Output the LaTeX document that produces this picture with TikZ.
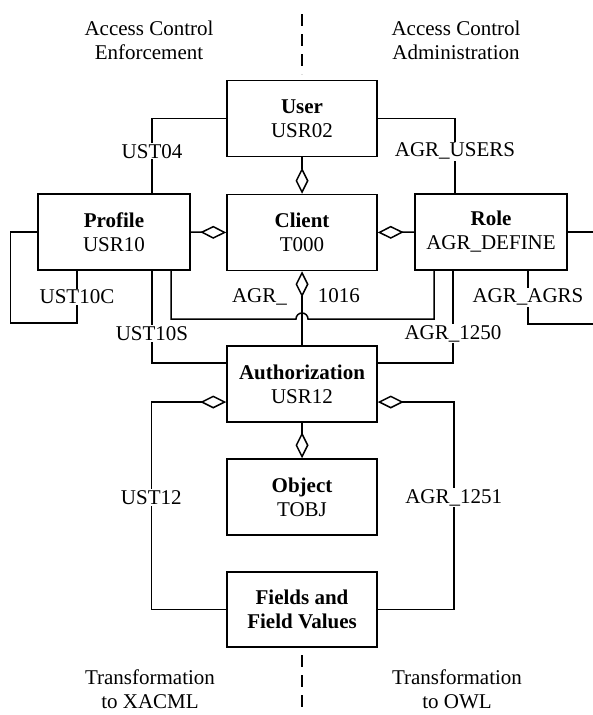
\documentclass[tikz,border=0pt]{standalone}
\usepackage{fontspec}
\setmainfont{Liberation Serif}
\usetikzlibrary{arrows.meta}

\begin{document}
\begin{tikzpicture}[x=1pt, y=-1pt, line width=1.5pt,
  font=\fontsize{21}{24}\selectfont,
  box/.style={draw, minimum width=150pt, minimum height=76pt, align=center, inner sep=2pt},
  lbl/.style={fill=white, inner sep=1pt},
  agg/.style={-{Diamond[open, length=26pt, width=13pt]}},
  aggstart/.style={{Diamond[open, length=26pt, width=13pt]}-},
  divider/.style={dash pattern=on 12pt off 8pt}]
\useasboundingbox (0,0) rectangle (593,715);
% view split
\draw[divider] (302,14) -- (302,74);
\draw[divider] (302,655) -- (302,715);
\node[align=center] (enf) at (149,40) {Access Control\\Enforcement};
\node[align=center] (adm) at (456,40) {Access Control\\Administration};
\node[align=center] (xacml) at (150,689) {Transformation\\to XACML};
\node[align=center] (owl) at (457,689) {Transformation\\to OWL};
% tables
\node[box] (user) at (302,118.5) {\textbf{User}\\USR02};
\node[box] (client) at (302,232.5) {\textbf{Client}\\T000};
\node[box, minimum width=152pt] (profile) at (114,232) {\textbf{Profile}\\USR10};
\node[box, minimum width=152pt] (role) at (491,232) {\textbf{Role}\\AGR\_DEFINE};
\node[box] (auth) at (302,384) {\textbf{Authorization}\\USR12};
\node[box] (object) at (302,497) {\textbf{Object}\\TOBJ};
\node[box, minimum height=75pt] (fields) at (302,609.5) {\textbf{Fields and}\\\textbf{Field Values}};
% links
\draw (user.west) -| node[lbl, pos=0.72]{UST04} ([xshift=38]profile.north);
\draw (user.east) -| node[lbl, pos=0.72]{AGR\_USERS} ([xshift=-36]role.north);
\draw[agg] (user.south) -- (client.north);
\draw[agg] (profile.east) -- (client.west);
\draw[agg] (role.west) -- (client.east);
\draw (profile.west) -| ++(-27,91) -| node[lbl, pos=0.75]{UST10C} ([xshift=-37]profile.south);
\draw (role.east) -- ++(30,0);
\draw ([xshift=37]role.south) |- node[lbl, pos=0.25]{AGR\_AGRS} ++(70,53);
\draw ([xshift=38]profile.south) |- node[lbl, pos=0.34]{UST10S} ([yshift=21]auth.west);
\draw ([xshift=-38]role.south) |- node[lbl, pos=0.34]{AGR\_1250} ([yshift=21]auth.east);
\coordinate (hop) at (302,319);
\draw ([xshift=57]profile.south) |- ([xshift=-6]hop) arc[start angle=180, end angle=0, radius=6pt] -| ([xshift=-57]role.south);
\draw[aggstart] (client.south) -- node[pos=0.35, xshift=-6]{AGR\_\hspace{31pt}1016} (auth.north);
\draw[agg] (auth.south) -- (object.north);
\draw[aggstart] ([yshift=-18]auth.west) -- ++(-75,0) |- node[lbl, pos=0.23]{UST12} (fields.west);
\draw[aggstart] ([yshift=-18]auth.east) -- ++(76,0) |- node[lbl, pos=0.23]{AGR\_1251} (fields.east);
\end{tikzpicture}
\end{document}
